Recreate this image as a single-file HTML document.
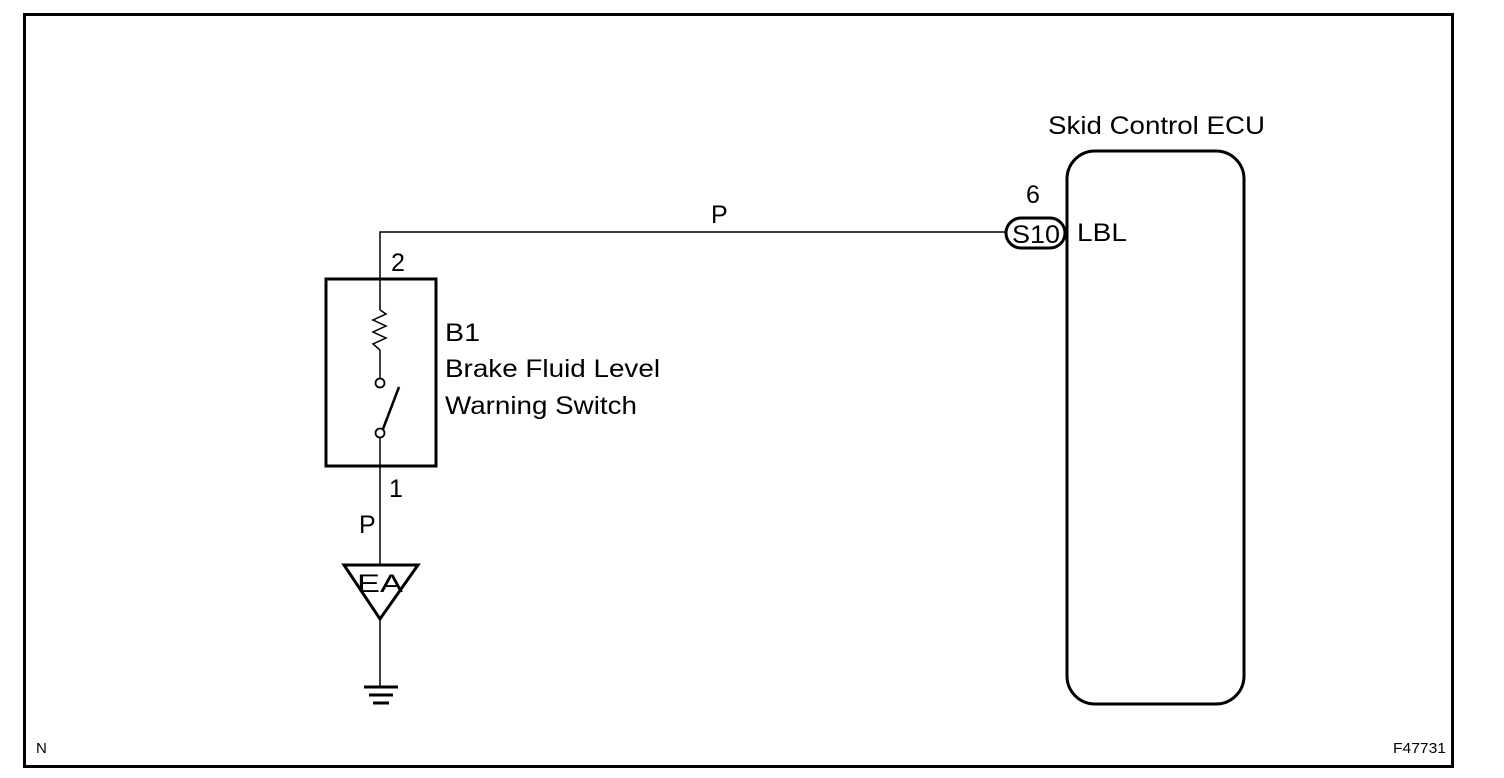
<!DOCTYPE html>
<html><head><meta charset="utf-8"><style>
html,body{margin:0;padding:0;background:#fff;}
svg{display:block;font-family:"Liberation Sans",Arial,sans-serif;}
</style></head><body>
<svg width="1504" height="778" viewBox="0 0 1504 778">
<rect x="24.5" y="14.5" width="1428" height="752" fill="none" stroke="#000" stroke-width="3"/>
<polyline points="1006,232 380,232 380,310" fill="none" stroke="#000" stroke-width="1.5"/>
<polyline points="380,350 380,378" fill="none" stroke="#000" stroke-width="1.5"/>
<polyline points="380,438 380,564" fill="none" stroke="#000" stroke-width="1.5"/>
<polyline points="380,620 380,687" fill="none" stroke="#000" stroke-width="1.5"/>
<rect x="326" y="279" width="110" height="187" fill="none" stroke="#000" stroke-width="3"/>
<polyline points="380,310 386,314 373,320 386,326 373,332 386,338 373,344 380,350" fill="none" stroke="#000" stroke-width="1.5"/>
<circle cx="380" cy="383" r="4.5" fill="#fff" stroke="#000" stroke-width="1.8"/>
<circle cx="380" cy="433" r="4.5" fill="#fff" stroke="#000" stroke-width="1.8"/>
<line x1="383" y1="429" x2="399" y2="387" stroke="#000" stroke-width="2.5"/>
<polygon points="344,565 418,565 380,619" fill="none" stroke="#000" stroke-width="3"/>
<text x="357" y="592" font-size="25" textLength="46" lengthAdjust="spacingAndGlyphs">EA</text>
<line x1="364" y1="687" x2="398" y2="687" stroke="#000" stroke-width="3"/>
<line x1="369" y1="695" x2="393" y2="695" stroke="#000" stroke-width="3"/>
<line x1="373" y1="703" x2="389" y2="703" stroke="#000" stroke-width="3"/>
<rect x="1067" y="151" width="177" height="553" rx="28" ry="28" fill="none" stroke="#000" stroke-width="3"/>
<rect x="1006" y="218" width="59" height="30" rx="15" ry="15" fill="#fff" stroke="#000" stroke-width="3"/>
<text x="1012" y="243" font-size="25" textLength="48" lengthAdjust="spacingAndGlyphs">S10</text>
<text x="1026" y="203" font-size="25">6</text>
<text x="1077" y="241" font-size="25" textLength="50" lengthAdjust="spacingAndGlyphs">LBL</text>
<text x="1048" y="134" font-size="25" textLength="217" lengthAdjust="spacingAndGlyphs">Skid Control ECU</text>
<text x="711" y="223" font-size="25">P</text>
<text x="391" y="271" font-size="25">2</text>
<text x="389" y="497" font-size="25">1</text>
<text x="359" y="533" font-size="25">P</text>
<text x="445" y="341" font-size="25" textLength="35" lengthAdjust="spacingAndGlyphs">B1</text>
<text x="445" y="377" font-size="25" textLength="215" lengthAdjust="spacingAndGlyphs">Brake Fluid Level</text>
<text x="445" y="414" font-size="25" textLength="192" lengthAdjust="spacingAndGlyphs">Warning Switch</text>
<text x="36" y="753" font-size="15">N</text>
<text x="1393" y="753" font-size="15" textLength="53" lengthAdjust="spacingAndGlyphs">F47731</text>
</svg>
</body></html>
